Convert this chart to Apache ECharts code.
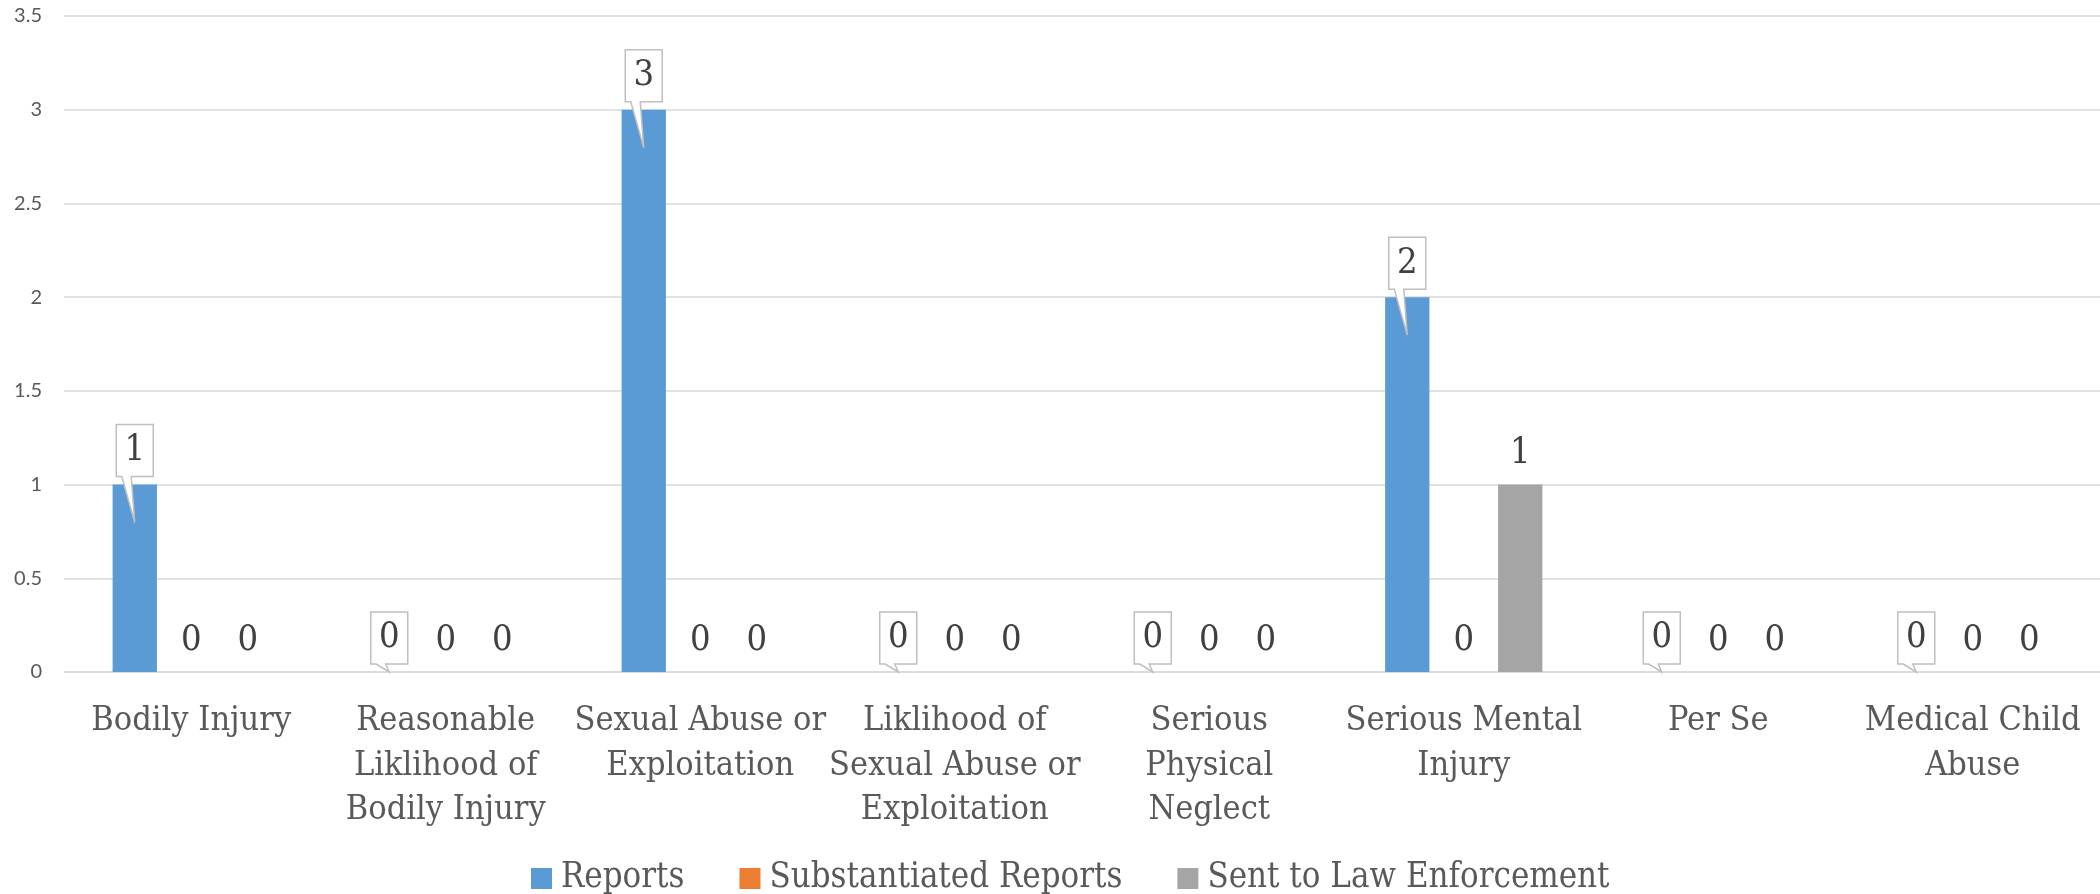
<!DOCTYPE html>
<html>
<head>
<meta charset="utf-8">
<script src="https://cdn.jsdelivr.net/npm/echarts@6/dist/echarts.min.js"></script>
<style>
  html, body { margin: 0; padding: 0; background: #ffffff; }
  #chart { width: 2100px; height: 894px; }
</style>
</head>
<body>
<div id="chart"></div>
<script>
// ---- data ----
const categories = [
  'Bodily Injury',
  'Reasonable\nLiklihood of\nBodily Injury',
  'Sexual Abuse or\nExploitation',
  'Liklihood of\nSexual Abuse or\nExploitation',
  'Serious\nPhysical\nNeglect',
  'Serious Mental\nInjury',
  'Per Se',
  'Medical Child\nAbuse'
];
const reports = [1, 0, 3, 0, 0, 2, 0, 0];
const substantiated = [0, 0, 0, 0, 0, 0, 0, 0];
const sentToLaw = [0, 0, 0, 0, 0, 1, 0, 0];
const seriesNames = ['Reports', 'Substantiated Reports', 'Sent to Law Enforcement'];
const yTicks = { min: 0, max: 3.5, interval: 0.5 };

// ---- styling ----
const COLORS = ['#5B9BD5', '#ED7D31', '#A5A5A5'];
const SERIF = '"DejaVu Serif Condensed", "DejaVu Serif", serif';
const CAT_GAP = 0.382;
const BAR_GAP = 0.275;
const TEXT = '#595959';
const LABEL_TEXT = '#404040';

const chart = echarts.init(document.getElementById('chart'), null, { renderer: 'canvas' });

const plainLabel = {
  show: true,
  position: 'top',
  distance: 13,
  fontFamily: SERIF,
  fontSize: 36,
  lineHeight: 36,
  color: LABEL_TEXT
};

function callout(params, api) {
  const i = api.value(0);
  const v = api.value(1);
  const p = api.coord([i, v]);
  const base = api.coord([i, 0]);
  const W = api.size([1, 0])[0];
  const usable = W * (1 - CAT_GAP);
  const bw = usable / (3 + 2 * BAR_GAP);
  const cx = p[0] - usable / 2 + bw / 2;
  const bot = p[1] - 8;
  const top = bot - 52;
  const hw = 18.5;
  const tipY = v > 0 ? p[1] + 38 : base[1];
  return {
    type: 'group',
    children: [
      {
        type: 'polygon',
        shape: {
          points: [
            [cx - hw, top], [cx + hw, top], [cx + hw, bot],
            [cx - 3.5, bot], [cx, tipY], [cx - 13, bot], [cx - hw, bot]
          ]
        },
        style: { fill: '#ffffff', stroke: '#BFBFBF', lineWidth: 1.5 }
      },
      {
        type: 'text',
        style: {
          text: String(v),
          x: cx,
          y: (top + bot) / 2,
          align: 'center',
          verticalAlign: 'middle',
          fontFamily: SERIF,
          fontSize: 36,
          fill: LABEL_TEXT
        }
      }
    ]
  };
}

const option = {
  backgroundColor: '#ffffff',
  animation: false,
  color: COLORS,
  grid: { left: 64, top: 16, width: 2044, height: 656, containLabel: false },
  legend: {
    data: seriesNames,
    left: 526,
    top: 856,
    itemWidth: 21,
    itemHeight: 21,
    itemGap: 55,
    icon: 'rect',
    textStyle: { fontFamily: SERIF, fontSize: 34.5, color: TEXT, padding: [0, 0, 0, 4] }
  },
  xAxis: {
    type: 'category',
    data: categories,
    axisLine: { show: true, lineStyle: { color: '#D9D9D9', width: 1.5 } },
    axisTick: { show: false },
    axisLabel: {
      interval: 0,
      margin: 27,
      fontFamily: SERIF,
      fontSize: 34,
      lineHeight: 44.5,
      color: TEXT,
      align: 'center'
    }
  },
  yAxis: {
    type: 'value',
    min: yTicks.min,
    max: yTicks.max,
    interval: yTicks.interval,
    axisLine: { show: false },
    axisTick: { show: false },
    splitLine: { lineStyle: { color: '#D9D9D9', width: 1.5 } },
    axisLabel: { margin: 22, fontFamily: 'Lato, "Open Sans", sans-serif', fontSize: 20, color: TEXT }
  },
  series: [
    {
      name: seriesNames[0], type: 'bar', data: reports,
      barCategoryGap: (CAT_GAP * 100) + '%', barGap: (BAR_GAP * 100) + '%',
      itemStyle: { color: COLORS[0] }
    },
    {
      name: seriesNames[1], type: 'bar', data: substantiated,
      barCategoryGap: (CAT_GAP * 100) + '%', barGap: (BAR_GAP * 100) + '%',
      itemStyle: { color: COLORS[1] },
      label: plainLabel
    },
    {
      name: seriesNames[2], type: 'bar', data: sentToLaw,
      barCategoryGap: (CAT_GAP * 100) + '%', barGap: (BAR_GAP * 100) + '%',
      itemStyle: { color: COLORS[2] },
      label: plainLabel
    },
    {
      name: 'Reports callouts', type: 'custom', z: 10,
      data: reports.map((v, i) => [i, v]),
      encode: { x: 0, y: 1 },
      renderItem: callout,
      silent: true
    }
  ]
};

chart.setOption(option);
</script>
</body>
</html>
